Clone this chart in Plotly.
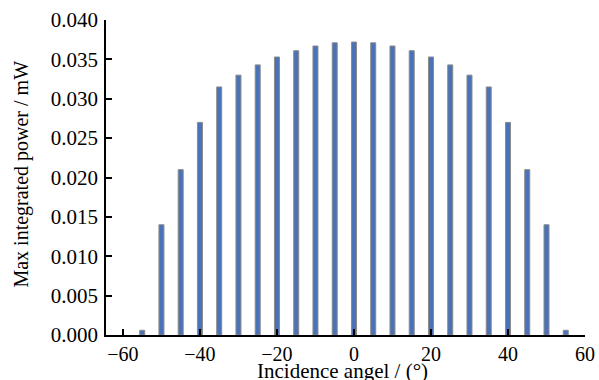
import plotly.graph_objects as go

angles = [-55, -50, -45, -40, -35, -30, -25, -20, -15, -10, -5, 0,
          5, 10, 15, 20, 25, 30, 35, 40, 45, 50, 55]
power = [0.0006, 0.0140, 0.0210, 0.0270, 0.0315, 0.0330, 0.0343, 0.0353, 0.0361, 0.0367, 0.0371, 0.0372,
         0.0371, 0.0367, 0.0361, 0.0353, 0.0343, 0.0330, 0.0315, 0.0270, 0.0210, 0.0140, 0.0006]
x_ticks = [-60, -40, -20, 0, 20, 40, 60]
x_labels = ["\u221260", "\u221240", "\u221220", "0", "20", "40", "60"]
y_ticks = [0.000, 0.005, 0.010, 0.015, 0.020, 0.025, 0.030, 0.035, 0.040]

font = "Liberation Serif, Times New Roman, serif"

fig = go.Figure(go.Bar(
    x=angles, y=power, width=1.3,
    marker=dict(color="#4a72b8", line=dict(color="#8a8a8a", width=1)),
))

fig.update_layout(
    width=599, height=380,
    margin=dict(l=106, r=14, t=20, b=45),
    plot_bgcolor="white", paper_bgcolor="white",
    showlegend=False,
    font=dict(family=font, size=21, color="black"),
    xaxis=dict(
        range=[-64.4, 60], tickvals=x_ticks, ticktext=x_labels,
        tickfont=dict(family=font, size=20),
        showline=True, linecolor="black", linewidth=1.5,
        ticks="inside", ticklen=6, tickwidth=1.5, tickcolor="black",
        showgrid=False, zeroline=False, automargin=False,
    ),
    yaxis=dict(
        range=[0, 0.040], tickvals=y_ticks, tickformat=".3f",
        tickfont=dict(family=font, size=21),
        showline=True, linecolor="black", linewidth=1.5,
        ticks="inside", ticklen=6, tickwidth=1.5, tickcolor="black",
        ticklabelstandoff=2,
        showgrid=False, zeroline=False, automargin=False,
    ),
    annotations=[
        dict(text="Incidence angel / (\u00b0)", xref="paper", yref="paper",
             x=0.4927, y=-0.113, xanchor="center", yanchor="middle",
             showarrow=False, font=dict(family=font, size=21)),
        dict(text="Max integrated power / mW", xref="paper", yref="paper",
             x=-0.177, y=0.51, xanchor="center", yanchor="middle",
             textangle=-90, showarrow=False, font=dict(family=font, size=20)),
    ],
)

fig.write_html("out.html")
